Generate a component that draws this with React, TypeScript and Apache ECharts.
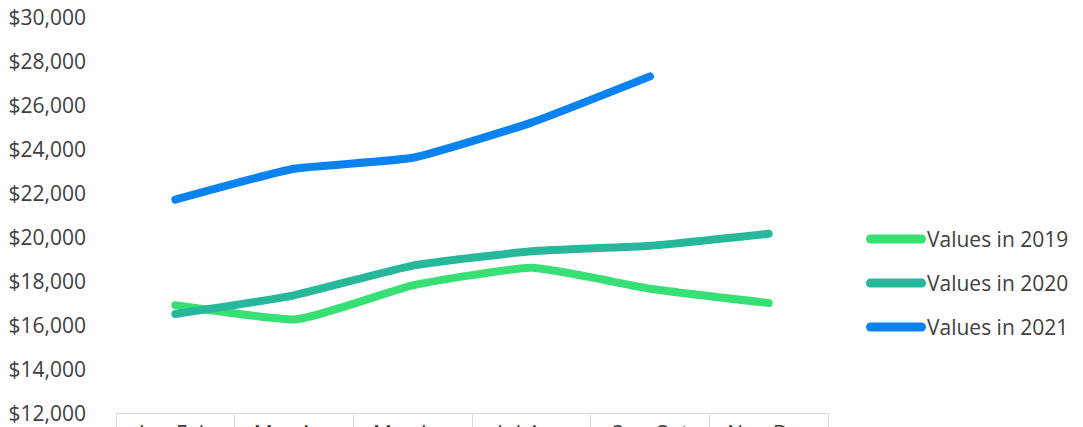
import React, { useEffect, useRef } from "react";
import * as echarts from "echarts";

const categories = ["Jan-Feb", "Mar-Apr", "May-Jun", "Jul-Aug", "Sep-Oct", "Nov-Dec"];
const seriesNames = ["Values in 2019", "Values in 2020", "Values in 2021"];
const values2019 = [16900, 16250, 17800, 18600, 17650, 17000];
const values2020 = [16500, 17350, 18700, 19350, 19600, 20150];
const values2021: (number | null)[] = [21700, 23100, 23600, 25200, 27300, null];
const colors = ["#36e074", "#27b89c", "#0a83f2"];

const FONT = "'Open Sans', 'Noto Sans', sans-serif";

export default function App() {
  const ref = useRef<HTMLDivElement>(null);
  useEffect(() => {
    if (!ref.current) return;
    const chart = echarts.init(ref.current, undefined, { renderer: "svg" });
    const allValues = [values2019, values2020, values2021];
    chart.setOption({
      animation: false,
      backgroundColor: "#ffffff",
      textStyle: { fontFamily: FONT },
      grid: {
        left: 116,
        right: 255,
        top: 17,
        bottom: 14,
        containLabel: false,
        outerBoundsMode: "none",
      },
      legend: {
        orient: "vertical",
        left: 866,
        top: 227,
        padding: 0,
        itemWidth: 60,
        itemHeight: 9,
        itemGap: 20,
        icon: "path://M4.5,0 H55.5 A4.5,4.5 0 0 1 55.5,9 H4.5 A4.5,4.5 0 0 1 4.5,0 Z",
        textStyle: {
          fontFamily: FONT,
          fontSize: 21,
          color: "#404040",
          lineHeight: 24,
          padding: [0, 0, 0, -4],
        },
        data: seriesNames,
      },
      xAxis: {
        type: "category",
        data: categories,
        boundaryGap: true,
        axisLine: { show: true, lineStyle: { color: "#d9d9d9", width: 1 } },
        axisTick: {
          show: true,
          interval: 0,
          alignWithLabel: false,
          length: 40,
          lineStyle: { color: "#d9d9d9", width: 1 },
        },
        axisLabel: {
          interval: 0,
          margin: 8,
          fontFamily: FONT,
          fontSize: 21,
          color: "#404040",
          lineHeight: 24,
        },
        splitLine: { show: false },
      },
      yAxis: {
        type: "value",
        min: 12000,
        max: 30000,
        interval: 2000,
        axisLine: { show: false },
        axisTick: { show: false },
        splitLine: { show: false },
        axisLabel: {
          margin: 30,
          fontFamily: FONT,
          fontSize: 21,
          color: "#404040",
          formatter: (v: number) => "$" + v.toLocaleString("en-US"),
        },
      },
      series: seriesNames.map((name, i) => ({
        name,
        type: "line",
        data: allValues[i],
        showSymbol: false,
        symbol: "none",
        smooth: 0.15,
        connectNulls: false,
        color: colors[i],
        lineStyle: { width: 8, color: colors[i], cap: "round", join: "round" },
        itemStyle: { color: colors[i] },
      })),
    });
    return () => chart.dispose();
  }, []);
  return (
    <div
      ref={ref}
      style={{ position: "absolute", left: 0, top: 0, width: 1083, height: 427 }}
    />
  );
}
